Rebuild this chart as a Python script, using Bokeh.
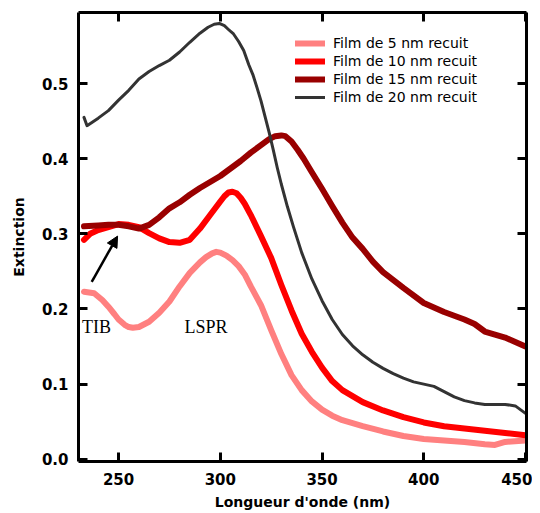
from bokeh.plotting import figure
from bokeh.models import LinearAxis, Range1d, Arrow, NormalHead, FixedTicker
from bokeh.core.properties import value
from bokeh.embed import file_html
from bokeh.resources import INLINE

# ---------------- data ----------------
wl_5 = [233, 238, 242, 245, 248, 250, 253, 255, 257, 260, 265, 270, 275, 280, 285, 290, 293, 296, 298,
        300, 303, 306, 309, 312, 315, 320, 325, 330, 335, 340, 345, 350, 355, 360, 370, 380, 390,
        400, 410, 420, 430, 435, 440, 450]
ext_5 = [0.223, 0.221, 0.212, 0.203, 0.193, 0.186, 0.179, 0.176, 0.175, 0.176, 0.183, 0.195, 0.210,
         0.230, 0.248, 0.262, 0.269, 0.274, 0.276, 0.275, 0.271, 0.265, 0.257, 0.246, 0.230, 0.205,
         0.172, 0.140, 0.112, 0.092, 0.077, 0.066, 0.058, 0.052, 0.044, 0.037, 0.031, 0.027, 0.025,
         0.023, 0.020, 0.019, 0.023, 0.025]

wl_10 = [233, 236, 240, 245, 250, 255, 260, 265, 270, 275, 280, 285, 290, 295, 300, 302, 304, 306,
         308, 310, 312, 315, 320, 325, 330, 335, 340, 345, 350, 355, 360, 370, 380, 390, 400, 410,
         420, 430, 440, 450]
ext_10 = [0.292, 0.300, 0.305, 0.309, 0.313, 0.312, 0.309, 0.301, 0.294, 0.289, 0.288, 0.292, 0.307,
          0.325, 0.343, 0.350, 0.355, 0.356, 0.354, 0.348, 0.340, 0.325, 0.297, 0.268, 0.232, 0.198,
          0.167, 0.143, 0.122, 0.104, 0.092, 0.076, 0.065, 0.056, 0.049, 0.044, 0.041, 0.038, 0.035,
          0.032]

wl_15 = [233, 240, 245, 250, 255, 260, 265, 270, 275, 280, 285, 290, 295, 300, 305, 310, 315, 320,
         324, 327, 330, 332, 335, 338, 341, 345, 350, 355, 360, 365, 370, 375, 380, 390, 400, 410,
         420, 425, 430, 440, 445, 450]
ext_15 = [0.310, 0.311, 0.312, 0.312, 0.310, 0.307, 0.312, 0.322, 0.334, 0.342, 0.352, 0.361, 0.369,
          0.377, 0.387, 0.397, 0.408, 0.418, 0.426, 0.430, 0.431, 0.430, 0.423, 0.412, 0.400, 0.382,
          0.360, 0.337, 0.315, 0.295, 0.280, 0.263, 0.249, 0.228, 0.208, 0.196, 0.186, 0.180, 0.170,
          0.162, 0.156, 0.150]

wl_20 = [233, 234.5, 240, 245, 250, 255, 260, 265, 270, 275, 280, 285, 290, 294, 297, 299.5, 302, 304,
         306.5, 309, 311.5, 314, 316, 318, 320, 322, 324, 326, 328, 330, 333, 336, 340, 345, 350, 355,
         360, 365, 370, 375, 380, 385, 390, 395, 400, 405, 410, 415, 420, 425, 430, 435, 440, 445, 450]
ext_20 = [0.455, 0.444, 0.454, 0.464, 0.478, 0.491, 0.506, 0.516, 0.524, 0.531, 0.542, 0.555, 0.567,
          0.575, 0.579, 0.580, 0.577, 0.572, 0.566, 0.556, 0.544, 0.525, 0.512, 0.495, 0.477, 0.456,
          0.435, 0.412, 0.388, 0.366, 0.336, 0.309, 0.275, 0.240, 0.211, 0.186, 0.166, 0.151, 0.139,
          0.129, 0.121, 0.114, 0.108, 0.103, 0.100, 0.097, 0.090, 0.083, 0.078, 0.075, 0.073, 0.073,
          0.073, 0.071, 0.061]

series_labels = ["Film de 5 nm recuit", "Film de 10 nm recuit", "Film de 15 nm recuit", "Film de 20 nm recuit"]

x_ticks = [250, 300, 350, 400, 450]
y_ticks = [0.0, 0.1, 0.2, 0.3, 0.4, 0.5]
y_tick_labels = ["0.0", "0.1", "0.2", "0.3", "0.4", "0.5"]

annot_texts = ["TIB", "LSPR"]
annot_x = [239.2, 293.0]
annot_y = [0.176, 0.176]

arrow_start = (236.8, 0.236)
arrow_end = (249.5, 0.297)

# ---------------- figure ----------------
p = figure(width=532, height=512, x_range=Range1d(230.3, 450.5), y_range=Range1d(-0.003, 0.5946),
           output_backend="svg", toolbar_location=None,
           min_border_left=78, min_border_right=6, min_border_top=12, min_border_bottom=51)
p.xgrid.visible = False
p.ygrid.visible = False
p.outline_line_color = None
p.background_fill_color = "white"
p.border_fill_color = "white"

colors = ["#FF8080", "#FF0000", "#990000", "#333333"]
widths = [6, 6, 6, 3]
data = [(wl_5, ext_5), (wl_10, ext_10), (wl_15, ext_15), (wl_20, ext_20)]
for (xs, ys), c, w, lab in zip(data, colors, widths, series_labels):
    p.line(xs, ys, line_color=c, line_width=w, line_join="round", line_cap="round", legend_label=lab)

p.text(x=annot_x, y=annot_y, text=annot_texts, text_font=value("Liberation Serif"),
       text_font_size="18px", text_align="center", text_baseline="middle", text_color="black")

p.add_layout(Arrow(end=NormalHead(size=11, fill_color="black", line_color="black", line_width=1),
                   x_start=arrow_start[0], y_start=arrow_start[1],
                   x_end=arrow_end[0], y_end=arrow_end[1], line_width=2.5, line_color="black"))

def style_axis(ax, ticks):
    ax.ticker = FixedTicker(ticks=ticks)
    ax.axis_line_width = 3
    ax.axis_line_color = "black"
    ax.major_tick_line_width = 3
    ax.major_tick_line_color = "black"
    ax.major_tick_in = 9
    ax.major_tick_out = 0
    ax.minor_tick_line_color = None
    ax.major_label_text_font = "DejaVu Sans"
    ax.major_label_text_font_style = "bold"
    ax.major_label_text_font_size = "15px"
    ax.major_label_text_color = "black"
    ax.axis_label_text_font = "DejaVu Sans"
    ax.axis_label_text_font_style = "bold"
    ax.axis_label_text_font_size = "14px"
    ax.axis_label_text_color = "black"

xa = p.xaxis[0]
style_axis(xa, x_ticks)
xa.axis_label = "Longueur d'onde (nm)"
xa.major_label_standoff = 11
xa.axis_label_standoff = 6

ya = p.yaxis[0]
style_axis(ya, y_ticks)
ya.major_label_overrides = {t: l for t, l in zip(y_ticks, y_tick_labels)}
ya.axis_label = "Extinction"
ya.major_label_standoff = 10
ya.axis_label_standoff = 12

top = LinearAxis()
style_axis(top, x_ticks)
top.major_label_text_font_size = "0px"
top.major_label_text_color = None
top.major_label_standoff = 0
p.add_layout(top, "above")

right = LinearAxis()
style_axis(right, y_ticks)
right.major_label_text_font_size = "0px"
right.major_label_text_color = None
right.major_label_standoff = 0
p.add_layout(right, "right")

lg = p.legend[0]
lg.location = (217, 355)
lg.border_line_color = None
lg.background_fill_alpha = 0
lg.padding = 0
lg.margin = 0
lg.spacing = 0
lg.label_height = 18
lg.glyph_height = 18
lg.glyph_width = 30
lg.label_standoff = 8
lg.label_text_font = "DejaVu Sans"
lg.label_text_font_size = "14px"
lg.label_text_color = "black"

open("out.html", "w").write(file_html(p, INLINE))
